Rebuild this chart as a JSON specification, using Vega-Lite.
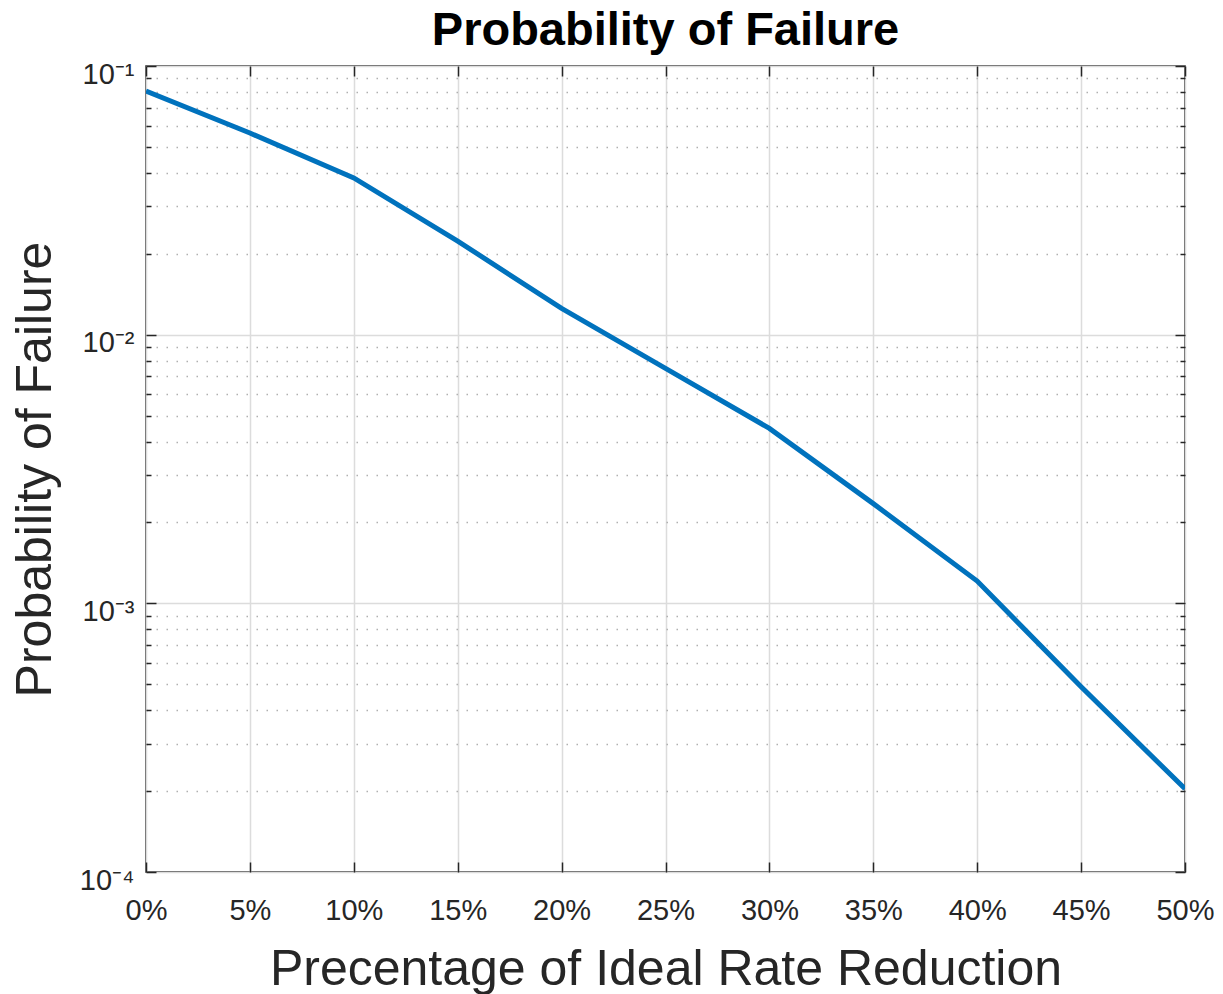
{
  "$schema": "https://vega.github.io/schema/vega-lite/v6.json",
  "width": 1039,
  "height": 806,
  "autosize": "none",
  "padding": {"left": 146, "top": 66, "right": 38, "bottom": 122},
  "background": "white",
  "config": {
    "font": "Liberation Sans",
    "view": {"stroke": "#262626", "strokeWidth": 1.5}
  },
  "title": {
    "text": "Probability of Failure",
    "fontSize": 47,
    "fontWeight": "bold",
    "color": "#000000",
    "anchor": "middle",
    "offset": 5
  },
  "data": {
    "values": [
      {"pct": 0.00, "p": 0.0807},
      {"pct": 0.05, "p": 0.0563},
      {"pct": 0.10, "p": 0.0383},
      {"pct": 0.15, "p": 0.0223},
      {"pct": 0.20, "p": 0.01253},
      {"pct": 0.25, "p": 0.00749},
      {"pct": 0.30, "p": 0.00448},
      {"pct": 0.35, "p": 0.00235},
      {"pct": 0.40, "p": 0.00121},
      {"pct": 0.45, "p": 0.000489},
      {"pct": 0.50, "p": 0.000204}
    ]
  },
  "layer": [
    {
      "mark": {"type": "line", "color": "#0072BD", "strokeWidth": 5, "clip": true},
      "encoding": {
        "x": {
          "field": "pct", "type": "quantitative",
          "scale": {"domain": [0, 0.5], "nice": false, "zero": false},
          "axis": {
            "orient": "bottom",
            "values": [0, 0.05, 0.1, 0.15, 0.2, 0.25, 0.3, 0.35, 0.4, 0.45, 0.5],
            "format": ".0%",
            "title": "Precentage of Ideal Rate Reduction",
            "titleFontSize": 50,
            "titleFontWeight": "normal",
            "titleColor": "#262626",
            "titlePadding": 19,
            "labelFontSize": 29,
            "labelColor": "#262626",
            "labelPadding": 34,
            "labelFlush": false,
            "labelOverlap": false,
            "domain": false,
            "ticks": true,
            "tickSize": -10,
            "tickColor": "#262626",
            "tickWidth": 1.5,
            "grid": true,
            "gridColor": "#dcdcdc",
            "gridWidth": 1.5
          }
        },
        "y": {
          "field": "p", "type": "quantitative",
          "scale": {"type": "log", "domain": [0.0001, 0.1], "nice": false},
          "axis": {
            "orient": "left",
            "values": [0.0001, 0.0002, 0.0003, 0.0004, 0.0005, 0.0006, 0.0007, 0.0008, 0.0009,
                       0.001, 0.002, 0.003, 0.004, 0.005, 0.006, 0.007, 0.008, 0.009,
                       0.01, 0.02, 0.03, 0.04, 0.05, 0.06, 0.07, 0.08, 0.09, 0.1],
            "labelExpr": "abs(datum.value - 0.1) < 1e-9 ? '10⁻¹' : abs(datum.value - 0.01) < 1e-10 ? '10⁻²' : abs(datum.value - 0.001) < 1e-11 ? '10⁻³' : abs(datum.value - 0.0001) < 1e-12 ? '10⁻⁴' : ''",
            "title": "Probability of Failure",
            "titleFontSize": 50,
            "titleFontWeight": "normal",
            "titleColor": "#262626",
            "titlePadding": 19,
            "labelFontSize": 29,
            "labelColor": "#262626",
            "labelPadding": 22,
            "labelOffset": 8,
            "labelFlush": false,
            "labelOverlap": false,
            "domain": false,
            "ticks": true,
            "tickSize": {"condition": {"test": "abs(log(datum.value)/LN10 - round(log(datum.value)/LN10)) < 1e-6", "value": -10}, "value": -5},
            "tickColor": "#262626",
            "tickWidth": 1.5,
            "grid": true,
            "gridColor": {"condition": {"test": "abs(log(datum.value)/LN10 - round(log(datum.value)/LN10)) < 1e-6", "value": "#dcdcdc"}, "value": "#b0b0b0"},
            "gridDash": {"condition": {"test": "abs(log(datum.value)/LN10 - round(log(datum.value)/LN10)) < 1e-6", "value": []}, "value": [1.5, 8.5]},
            "gridWidth": 1.5
          }
        }
      }
    },
    {
      "mark": {"type": "line", "opacity": 0},
      "encoding": {
        "x": {
          "field": "pct", "type": "quantitative",
          "axis": {
            "orient": "top",
            "values": [0, 0.05, 0.1, 0.15, 0.2, 0.25, 0.3, 0.35, 0.4, 0.45, 0.5],
            "labels": false,
            "title": null,
            "domain": false,
            "grid": false,
            "ticks": true,
            "tickSize": -10,
            "tickColor": "#262626",
            "tickWidth": 1.5
          }
        },
        "y": {
          "field": "p", "type": "quantitative",
          "axis": {
            "orient": "right",
            "values": [0.0001, 0.0002, 0.0003, 0.0004, 0.0005, 0.0006, 0.0007, 0.0008, 0.0009,
                       0.001, 0.002, 0.003, 0.004, 0.005, 0.006, 0.007, 0.008, 0.009,
                       0.01, 0.02, 0.03, 0.04, 0.05, 0.06, 0.07, 0.08, 0.09, 0.1],
            "labels": false,
            "title": null,
            "domain": false,
            "grid": false,
            "ticks": true,
            "tickSize": {"condition": {"test": "abs(log(datum.value)/LN10 - round(log(datum.value)/LN10)) < 1e-6", "value": -10}, "value": -5},
            "tickColor": "#262626",
            "tickWidth": 1.5
          }
        }
      }
    }
  ],
  "resolve": {"axis": {"x": "independent", "y": "independent"}}
}
